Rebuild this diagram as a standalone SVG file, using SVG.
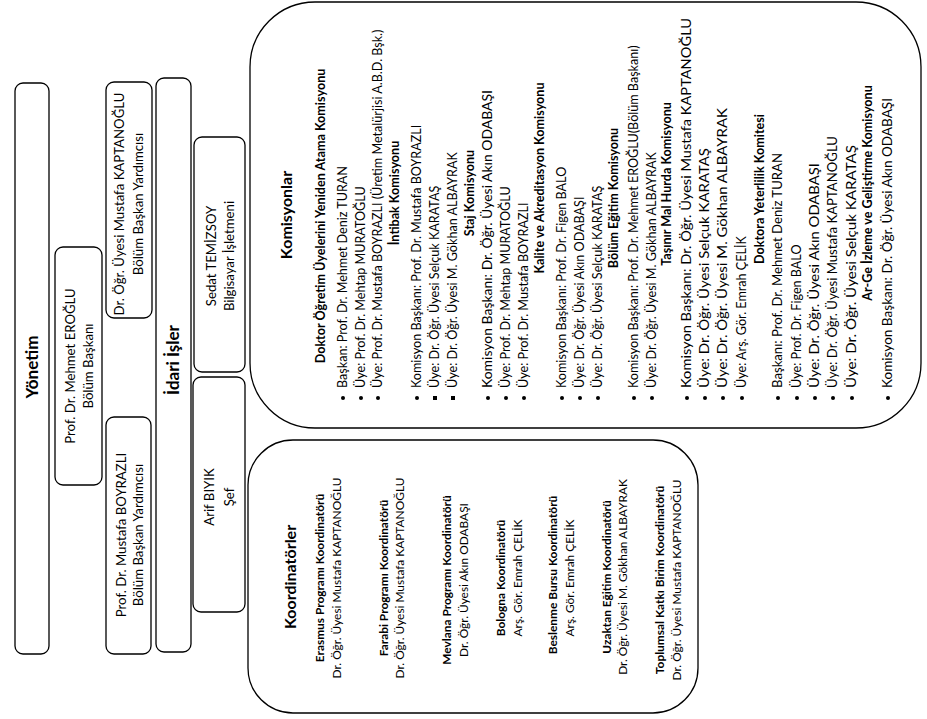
<svg xmlns="http://www.w3.org/2000/svg" width="927" height="719" viewBox="0 0 927 719">
<style>
.box{fill:#fff;stroke:#000;stroke-width:1.3}
text{font-family:Lato,"Liberation Sans",Arial,sans-serif;fill:#000}
.t{font-size:12.6px}
.l{font-size:13.2px;text-anchor:middle}
.k{font-size:11.9px;text-anchor:middle}
.kb{font-size:11.9px;font-weight:bold;text-anchor:middle}
.b{font-weight:bold}
.m{text-anchor:middle}
.h{font-size:16px;font-weight:bold;text-anchor:middle}
.dot{fill:#000}
</style>
<rect width="927" height="719" fill="#fff"/>
<g id="connectors"/>
<g id="yonetim">
<rect class="box" x="15" y="83" width="34" height="571" rx="8"/>
<text class="h" style="font-size:17px" transform="translate(38,367) rotate(-90)">Yönetim</text>
</g>
<g id="bolum-baskani">
<rect class="box" x="55" y="247" width="47" height="238" rx="8"/>
<text class="l" transform="translate(75,366) rotate(-90)">Prof. Dr. Mehmet EROĞLU</text>
<text class="l" transform="translate(93,366) rotate(-90)">Bölüm Başkanı</text>
</g>
<g id="baskan-yardimcisi-1">
<rect class="box" x="106" y="82" width="46" height="236" rx="8"/>
<text class="l" transform="translate(124,204) rotate(-90)">Dr. Öğr. Üyesi Mustafa KAPTANOĞLU</text>
<text class="l" transform="translate(143,204) rotate(-90)">Bölüm Başkan Yardımcısı</text>
</g>
<g id="baskan-yardimcisi-2">
<rect class="box" x="106" y="417" width="45" height="237" rx="8"/>
<text class="l" transform="translate(126,535) rotate(-90)">Prof. Dr. Mustafa BOYRAZLI</text>
<text class="l" transform="translate(143,535) rotate(-90)">Bölüm Başkan Yardımcısı</text>
</g>
<g id="idari-isler">
<rect class="box" x="156" y="78" width="35" height="574" rx="8"/>
<text class="h" style="font-size:17px" transform="translate(179,360) rotate(-90)">İdari İşler</text>
</g>
<g id="sedat">
<rect class="box" x="194" y="137" width="51" height="235" rx="8"/>
<text class="l" transform="translate(216,256) rotate(-90)">Sedat TEMİZSOY</text>
<text class="l" transform="translate(234,256) rotate(-90)">Bilgisayar İşletmeni</text>
</g>
<g id="arif">
<rect class="box" x="193" y="377" width="52" height="235" rx="8"/>
<text class="l" transform="translate(214,497) rotate(-90)">Arif BIYIK</text>
<text class="l" transform="translate(234,497) rotate(-90)">Şef</text>
</g>
<g id="komisyonlar">
<rect class="box" x="250" y="2" width="671" height="426" rx="65"/>
<text class="h" transform="translate(292,215) rotate(-90)">Komisyonlar</text>
<text class="t b m" transform="translate(325,216) rotate(-90)">Doktor Öğretim Üyelerini Yeniden  Atama Komisyonu</text>
<text class="t" transform="translate(347,388) rotate(-90)">Başkan: Prof. Dr. Mehmet Deniz TURAN</text>
<text class="t" transform="translate(365,388) rotate(-90)">Üye: Prof. Dr. Mehtap MURATOĞLU</text>
<text class="t" transform="translate(382,388) rotate(-90)">Üye: Prof. Dr. Mustafa BOYRAZLI (Üretim Metalürjisi A.B.D. Bşk.)</text>
<text class="t b m" transform="translate(399,193) rotate(-90)">İntibak Komisyonu</text>
<text class="t" transform="translate(421,388) rotate(-90)">Komisyon Başkanı: Prof. Dr. Mustafa BOYRAZLI</text>
<text class="t" transform="translate(439,388) rotate(-90)">Üye: Dr. Öğr. Üyesi Selçuk KARATAŞ</text>
<text class="t" transform="translate(457,388) rotate(-90)">Üye: Dr. Öğr. Üyesi M. Gökhan ALBAYRAK</text>
<text class="t b m" transform="translate(474,193) rotate(-90)">Staj Komisyonu</text>
<text class="t" textLength="298" lengthAdjust="spacingAndGlyphs" transform="translate(492,388) rotate(-90)">Komisyon Başkanı: Dr. Öğr. Üyesi Akın ODABAŞI</text>
<text class="t" transform="translate(510,388) rotate(-90)">Üye: Prof. Dr. Mehtap MURATOĞLU</text>
<text class="t" transform="translate(528,388) rotate(-90)">Üye: Prof. Dr. Mustafa BOYRAZLI</text>
<text class="t b m" transform="translate(544,178) rotate(-90)">Kalite ve Akreditasyon Komisyonu</text>
<text class="t" transform="translate(566,388) rotate(-90)">Komisyon Başkanı: Prof. Dr. Figen BALO</text>
<text class="t" transform="translate(584,388) rotate(-90)">Üye: Dr. Öğr. Üyesi Akın ODABAŞI</text>
<text class="t" transform="translate(602,388) rotate(-90)">Üye: Dr. Öğr. Üyesi Selçuk KARATAŞ</text>
<text class="t b m" transform="translate(618,198) rotate(-90)">Bölüm Eğitim Komisyonu</text>
<text class="t" transform="translate(638,388) rotate(-90)">Komisyon Başkanı: Prof. Dr. Mehmet EROĞLU(Bölüm Başkanı)</text>
<text class="t" transform="translate(656,388) rotate(-90)">Üye: Dr. Öğr. Üyesi M. Gökhan ALBAYRAK</text>
<text class="t b m" transform="translate(671,184) rotate(-90)">Taşınır Mal Hurda Komisyonu</text>
<text class="t" textLength="370" lengthAdjust="spacingAndGlyphs" transform="translate(691,388) rotate(-90)">Komisyon Başkanı:  Dr. Öğr. Üyesi Mustafa KAPTANOĞLU</text>
<text class="t" textLength="240" lengthAdjust="spacingAndGlyphs" transform="translate(709,388) rotate(-90)">Üye: Dr. Öğr. Üyesi Selçuk KARATAŞ</text>
<text class="t" textLength="280" lengthAdjust="spacingAndGlyphs" transform="translate(727,388) rotate(-90)">Üye: Dr. Öğr. Üyesi M. Gökhan ALBAYRAK</text>
<text class="t" transform="translate(746,388) rotate(-90)">Üye: Arş. Gör. Emrah ÇELİK</text>
<text class="t b m" transform="translate(764,189) rotate(-90)">Doktora Yeterlilik Komitesi</text>
<text class="t" textLength="235" lengthAdjust="spacingAndGlyphs" transform="translate(782,388) rotate(-90)">Başkanı:  Prof. Dr. Mehmet Deniz TURAN</text>
<text class="t" transform="translate(801,388) rotate(-90)">Üye: Prof. Dr. Figen BALO</text>
<text class="t" textLength="225" lengthAdjust="spacingAndGlyphs" transform="translate(819,388) rotate(-90)">Üye: Dr. Öğr. Üyesi Akın ODABAŞI</text>
<text class="t" textLength="252" lengthAdjust="spacingAndGlyphs" transform="translate(837,388) rotate(-90)">Üye: Dr. Öğr. Üyesi Mustafa KAPTANOĞLU</text>
<text class="t" textLength="243" lengthAdjust="spacingAndGlyphs" transform="translate(856,388) rotate(-90)">Üye: Dr. Öğr. Üyesi Selçuk KARATAŞ</text>
<text class="t b m" transform="translate(872,193) rotate(-90)">Ar-Ge İzleme ve Geliştirme Komisyonu</text>
<text class="t" textLength="290" lengthAdjust="spacingAndGlyphs" transform="translate(892,388) rotate(-90)">Komisyon Başkanı: Dr. Öğr. Üyesi Akın ODABAŞI</text>
<g class="dot">
<circle cx="343" cy="398" r="2"/><circle cx="361" cy="398" r="2"/><circle cx="378" cy="398" r="2"/>
<circle cx="417" cy="398" r="2"/>
<rect x="433" y="396" width="4" height="4"/><rect x="451" y="396" width="4" height="4"/>
<circle cx="488" cy="398" r="2"/><circle cx="506" cy="398" r="2"/><circle cx="524" cy="398" r="2"/>
<circle cx="562" cy="398" r="2"/><circle cx="580" cy="398" r="2"/><circle cx="598" cy="398" r="2"/>
<circle cx="634" cy="398" r="2"/><circle cx="652" cy="398" r="2"/>
<circle cx="687" cy="398" r="2"/><circle cx="705" cy="398" r="2"/><circle cx="723" cy="398" r="2"/><circle cx="742" cy="398" r="2"/>
<circle cx="778" cy="398" r="2"/><circle cx="797" cy="398" r="2"/><circle cx="815" cy="398" r="2"/><circle cx="833" cy="398" r="2"/><circle cx="852" cy="398" r="2"/>
<circle cx="888" cy="398" r="2"/>
</g>
</g>
<g id="koordinatorler">
<rect class="box" x="248" y="440" width="450" height="273" rx="45"/>
<text class="h" transform="translate(296,577) rotate(-90)">Koordinatörler</text>
<text class="kb" transform="translate(324,578) rotate(-90)">Erasmus Programı Koordinatörü</text>
<text class="k" transform="translate(341,578) rotate(-90)">Dr. Öğr. Üyesi Mustafa  KAPTANOĞLU</text>
<text class="kb" transform="translate(388,578) rotate(-90)">Farabi Programı Koordinatörü</text>
<text class="k" transform="translate(404,578) rotate(-90)">Dr. Öğr. Üyesi Mustafa KAPTANOĞLU</text>
<text class="kb" transform="translate(451,580) rotate(-90)">Mevlana Programı Koordinatörü</text>
<text class="k" transform="translate(468,580) rotate(-90)">Dr. Öğr. Üyesi Akın ODABAŞI</text>
<text class="kb" transform="translate(505,578) rotate(-90)">Bologna Koordinatörü</text>
<text class="k" transform="translate(522,578) rotate(-90)">Arş. Gör. Emrah ÇELİK</text>
<text class="kb" transform="translate(557,575) rotate(-90)">Beslenme Bursu Koordinatörü</text>
<text class="k" transform="translate(574,578) rotate(-90)">Arş. Gör. Emrah ÇELİK</text>
<text class="kb" transform="translate(611,577) rotate(-90)">Uzaktan Eğitim Koordinatörü</text>
<text class="k" transform="translate(627,577) rotate(-90)">Dr. Öğr. Üyesi M. Gökhan ALBAYRAK</text>
<text class="kb" transform="translate(664,580) rotate(-90)">Toplumsal Katkı Birim Koordinatörü</text>
<text class="k" transform="translate(681,580) rotate(-90)">Dr. Öğr. Üyesi Mustafa KAPTANOĞLU</text>
</g>
</svg>
